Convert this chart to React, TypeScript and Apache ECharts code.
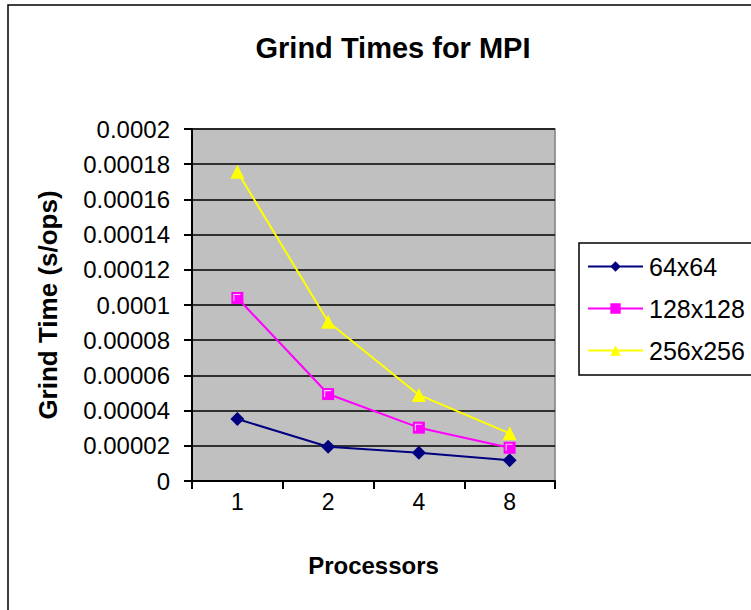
import React, { useEffect, useRef } from "react";
import * as echarts from "echarts";

const processors = ["1", "2", "4", "8"];
const grid64 = [0.0000352, 0.0000195, 0.0000161, 0.0000118];
const grid128 = [0.000104, 0.0000494, 0.0000303, 0.0000189];
const grid256 = [0.0001757, 0.0000905, 0.0000489, 0.0000271];

const FONT = "'Liberation Sans', Arial, sans-serif";

// small white corner drawn inside the square markers
const CORNER = "path://M0,0 H10 V1.6 H1.6 V10 H0 Z";

export default function App() {
  const ref = useRef<HTMLDivElement>(null);

  useEffect(() => {
    document.body.style.margin = "0";
    const chart = echarts.init(ref.current!, null, { renderer: "svg" });
    const fmt = (v: number) => (v === 0 ? "0" : String(parseFloat(v.toPrecision(6))));
    chart.setOption({
      animation: false,
      backgroundColor: "#ffffff",
      textStyle: { fontFamily: FONT, color: "#000" },
      title: {
        text: "Grind Times for MPI",
        left: 388,
        top: 28,
        textAlign: "center",
        textStyle: { fontFamily: FONT, fontSize: 29, fontWeight: "bold", color: "#000" },
      },
      graphic: [
        {
          type: "rect",
          shape: { x: 8, y: 5, width: 800, height: 700 },
          style: { fill: "none", stroke: "#000", lineWidth: 1.5 },
          silent: true,
          z: 100,
        },
      ],
      legend: {
        orient: "vertical",
        left: 579,
        top: 243,
        padding: [11, 80, 12, 8],
        itemWidth: 55,
        itemHeight: 13,
        itemGap: 17,
        borderColor: "#000",
        borderWidth: 1.5,
        backgroundColor: "#fff",
        textStyle: { fontFamily: FONT, fontSize: 25, color: "#000", padding: [0, 0, 0, 1] },
        data: ["64x64", "128x128", "256x256"],
      },
      grid: {
        left: 192,
        right: 196,
        top: 129,
        bottom: 129,
        show: true,
        backgroundColor: "#C0C0C0",
        borderColor: "#808080",
        borderWidth: 1.5,
      },
      xAxis: {
        type: "category",
        data: processors,
        boundaryGap: true,
        name: "Processors",
        nameLocation: "middle",
        nameGap: 72,
        nameTextStyle: { fontFamily: FONT, fontSize: 24, fontWeight: "bold", color: "#000" },
        axisLine: { lineStyle: { color: "#000", width: 2 } },
        axisTick: { show: true, length: 8, lineStyle: { color: "#000", width: 2 } },
        axisLabel: { fontFamily: FONT, fontSize: 23, color: "#000", margin: 9 },
      },
      yAxis: {
        type: "value",
        min: 0,
        max: 0.0002,
        interval: 0.00002,
        name: "Grind Time (s/ops)",
        nameLocation: "middle",
        nameGap: 131,
        nameTextStyle: { fontFamily: FONT, fontSize: 26, fontWeight: "bold", color: "#000" },
        axisLine: { show: true, lineStyle: { color: "#000", width: 2 } },
        axisTick: { show: true, length: 8, lineStyle: { color: "#000", width: 2 } },
        axisLabel: { fontFamily: FONT, fontSize: 24, color: "#000", margin: 22, formatter: fmt },
        splitLine: { show: true, lineStyle: { color: "#000", width: 1.5 } },
      },
      series: [
        {
          name: "64x64",
          type: "line",
          data: grid64,
          symbol: "diamond",
          symbolSize: 14,
          lineStyle: { color: "#000080", width: 2 },
          itemStyle: { color: "#000080" },
        },
        {
          name: "128x128",
          type: "line",
          data: grid128,
          symbol: "rect",
          symbolSize: 12,
          lineStyle: { color: "#FF00FF", width: 2 },
          itemStyle: { color: "#FF00FF" },
        },
        {
          name: "128x128 corner",
          type: "scatter",
          data: grid128,
          symbol: CORNER,
          symbolSize: [7, 7],
          symbolOffset: [-0.5, -0.5],
          itemStyle: { color: "#FFFFFF", borderWidth: 0 },
          z: 5,
          silent: true,
        },
        {
          name: "256x256",
          type: "line",
          data: grid256,
          symbol: "triangle",
          symbolSize: 14,
          lineStyle: { color: "#FFFF00", width: 2 },
          itemStyle: { color: "#FFFF00" },
        },
      ],
    });
    return () => chart.dispose();
  }, []);

  return <div ref={ref} style={{ width: 751, height: 610 }} />;
}
